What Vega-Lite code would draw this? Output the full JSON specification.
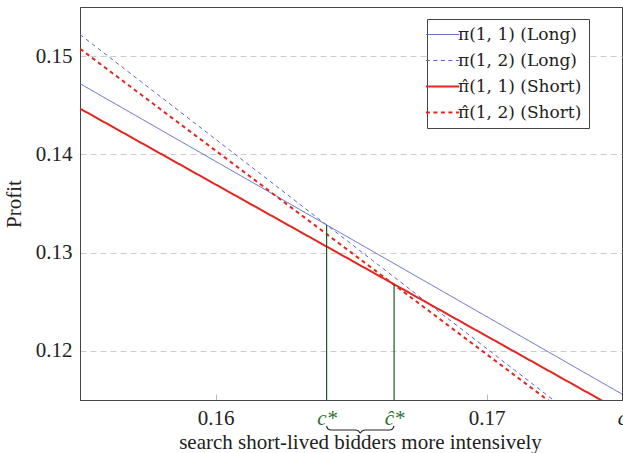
{
  "$schema": "https://vega.github.io/schema/vega-lite/v6.json",
  "width": 542,
  "height": 393,
  "autosize": {"type": "none"},
  "padding": {"left": 80, "top": 7, "right": 1, "bottom": 53},
  "background": "white",
  "config": {
    "font": "Liberation Serif",
    "view": {"stroke": "#444", "strokeWidth": 1},
    "axis": {
      "labelFont": "Liberation Serif",
      "titleFont": "Liberation Serif",
      "labelFontSize": 21,
      "titleFontSize": 21,
      "titleFontWeight": "normal",
      "labelColor": "#222",
      "titleColor": "#222",
      "domainColor": "#444"
    },
    "legend": {
      "labelFont": "DejaVu Serif",
      "labelFontSize": 17,
      "labelColor": "#222"
    }
  },
  "datasets": {
    "long": [
      {"series": "π(1, 1) (Long)", "c": 0.155, "profit": 0.1472},
      {"series": "π(1, 1) (Long)", "c": 0.175, "profit": 0.1156},
      {"series": "π(1, 2) (Long)", "c": 0.155, "profit": 0.1522},
      {"series": "π(1, 2) (Long)", "c": 0.175, "profit": 0.1096}
    ],
    "short": [
      {"series": "π̂(1, 1) (Short)", "c": 0.155, "profit": 0.14466},
      {"series": "π̂(1, 1) (Short)", "c": 0.175, "profit": 0.1138},
      {"series": "π̂(1, 2) (Short)", "c": 0.155, "profit": 0.15075},
      {"series": "π̂(1, 2) (Short)", "c": 0.175, "profit": 0.1093}
    ],
    "thresholds": [
      {"name": "c*", "c": 0.1641, "profit": 0.13282},
      {"name": "ĉ*", "c": 0.16659, "profit": 0.12678}
    ],
    "brace": [
      {"c": 0.164096, "y": 0.112354},
      {"c": 0.164151, "y": 0.112048},
      {"c": 0.164262, "y": 0.111947},
      {"c": 0.165148, "y": 0.111947},
      {"c": 0.165277, "y": 0.111845},
      {"c": 0.165339, "y": 0.111641},
      {"c": 0.165406, "y": 0.111845},
      {"c": 0.165535, "y": 0.111947},
      {"c": 0.166421, "y": 0.111947},
      {"c": 0.166531, "y": 0.112048},
      {"c": 0.166587, "y": 0.112354}
    ]
  },
  "encoding": {
    "x": {
      "field": "c",
      "type": "quantitative",
      "scale": {"domain": [0.155, 0.175], "nice": false, "zero": false},
      "axis": {
        "values": [0.16, 0.1641, 0.16659, 0.17, 0.175],
        "labelExpr": "datum.value == 0.1641 ? 'c*' : datum.value == 0.16659 ? 'ĉ*' : datum.value == 0.175 ? 'c' : format(datum.value, '.2f')",
        "labelColor": {"condition": {"test": "datum.value > 0.161 && datum.value < 0.169", "value": "#2f6f2f"}, "value": "#222"},
        "labelFontStyle": {"condition": {"test": "datum.value > 0.161 && datum.value != 0.17", "value": "italic"}, "value": "normal"},
        "tickColor": {"condition": {"test": "datum.value > 0.161 && datum.value != 0.17", "value": "transparent"}, "value": "#bbb"},
        "labelFlush": false,
        "labelOverlap": false,
        "tickSize": -6,
        "labelPadding": 13,
        "grid": false,
        "title": "search short-lived bidders more intensively",
        "titleX": 280,
        "titlePadding": 3
      }
    },
    "y": {
      "field": "profit",
      "type": "quantitative",
      "scale": {"domain": [0.115, 0.155], "nice": false, "zero": false},
      "axis": {
        "values": [0.12, 0.13, 0.14, 0.15],
        "format": ".2f",
        "grid": true,
        "gridColor": "#cccccc",
        "gridDash": [6, 4],
        "ticks": false,
        "labelPadding": 8,
        "title": "Profit",
        "titlePadding": 11
      }
    }
  },
  "layer": [
    {
      "data": {"name": "long"},
      "mark": {"type": "line", "clip": true, "strokeWidth": 1},
      "encoding": {
        "color": {
          "field": "series",
          "type": "nominal",
          "scale": {
            "domain": ["π(1, 1) (Long)", "π(1, 2) (Long)", "π̂(1, 1) (Short)", "π̂(1, 2) (Short)"],
            "range": ["#5a66c8", "#5a66c8", "#e3261f", "#e3261f"]
          },
          "legend": {
            "title": null,
            "orient": "none",
            "legendX": 347,
            "legendY": 12,
            "padding": 7,
            "strokeColor": "#444",
            "fillColor": "white",
            "symbolType": "stroke",
            "symbolSize": 1100,
            "rowPadding": 8,
            "labelOffset": 7,
            "encode": {
              "symbols": {
                "update": {
                  "strokeWidth": {"signal": "datum.index >= 2 ? 2 : 1"}
                }
              }
            }
          }
        },
        "strokeDash": {
          "field": "series",
          "type": "nominal",
          "scale": {
            "domain": ["π(1, 1) (Long)", "π(1, 2) (Long)", "π̂(1, 1) (Short)", "π̂(1, 2) (Short)"],
            "range": [[1, 0], [4, 3.5], [1, 0], [4, 3.5]]
          },
          "legend": {"title": null}
        }
      }
    },
    {
      "data": {"name": "short"},
      "mark": {"type": "line", "clip": true, "strokeWidth": 2},
      "encoding": {
        "color": {"field": "series", "type": "nominal"},
        "strokeDash": {"field": "series", "type": "nominal"}
      }
    },
    {
      "data": {"name": "thresholds"},
      "mark": {"type": "rule", "color": "#1e5a1e", "strokeWidth": 1.2},
      "encoding": {
        "y2": {"datum": 0.115}
      }
    },
    {
      "data": {"name": "brace"},
      "mark": {"type": "line", "color": "#222", "strokeWidth": 1.2, "clip": false, "interpolate": "monotone"},
      "encoding": {
        "y": {"field": "y", "type": "quantitative"}
      }
    }
  ]
}
